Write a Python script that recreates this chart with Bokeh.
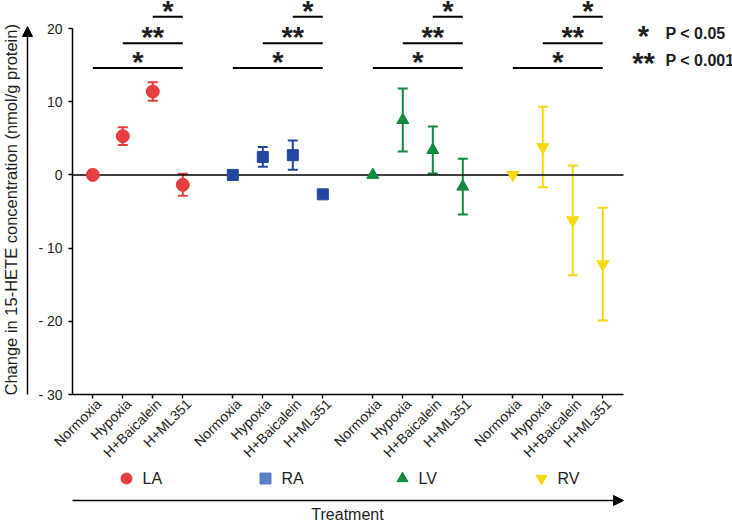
import math
from bokeh.plotting import figure
from bokeh.layouts import row, column
from bokeh.models import (ColumnDataSource, Whisker, TeeHead, Label, Arrow, NormalHead,
                          FixedTicker, Range1d, LinearAxis)
from bokeh.embed import file_html
from bokeh.resources import INLINE
from bokeh.core.properties import value

# ---------------- data ----------------
treatments = ["Normoxia", "Hypoxia", "H+Baicalein", "H+ML351"]
tissues = ["LA", "RA", "LV", "RV"]

la_mean = [0.0, 5.3, 11.4, -1.35]
la_err = [0.0, 1.2, 1.25, 1.5]
ra_mean = [0.0, 2.45, 2.7, -2.65]
ra_err = [0.0, 1.35, 2.0, 0.3]
lv_mean = [0.0, 7.5, 3.4, -1.6]
lv_err = [0.0, 4.3, 3.2, 3.8]
rv_mean = [0.0, 3.8, -6.2, -12.2]
rv_err = [0.0, 5.5, 7.5, 7.7]

y_ticks = [-30, -20, -10, 0, 10, 20]
y_tick_labels = ["- 30", "- 20", "- 10", "0", "10", "20"]

sig_from = [0, 1, 2]          # treatment index compared with H+ML351
sig_marks = ["*", "**", "*"]
sig_levels = [14.6, 18.0, 21.6]

p_legend_marks = ["*", "**"]
p_legend_texts = ["P < 0.05", "P < 0.001"]

y_title = "Change in 15-HETE concentration (nmol/g protein)"
x_title = "Treatment"

# ---------------- style ----------------
FONT = "Liberation Sans"
TXT = "#1e1e1e"
colors = ["#e63e3e", "#2346a0", "#108a3e", "#f7d80c"]
legend_colors = ["#e63e3e", "#5b7fc4", "#108a3e", "#f7d80c"]
markers = ["circle", "square", "triangle", "inverted_triangle"]
sizes = [13, 11, 12, 12]
legend_sizes = [11, 11, 11, 11]

W, H = 732, 522
LEFT_W = 34          # strip holding the y title + arrow
MAIN_H = 470         # main plot height; strip below holds legend + x title
FL, FB = 72, 394     # frame left / bottom in page pixels

GROUP_STEP = 14
TICK_STEP = 3
X_LEFT, X_RIGHT, X_AXIS_END = -2.03, 63.97, 53.07
LABEL_SHIFT = 0.6    # rotated tick labels sit slightly right of their ticks
Y_BOTTOM, Y_TOP = -30, 23.83

means = [la_mean, ra_mean, lv_mean, rv_mean]
errs = [la_err, ra_err, lv_err, rv_err]
xpos = [[g * GROUP_STEP + i * TICK_STEP for i in range(len(treatments))] for g in range(len(tissues))]

# ---------------- main plot ----------------
p = figure(width=W - LEFT_W, height=MAIN_H, x_range=Range1d(X_LEFT, X_RIGHT),
           y_range=Range1d(Y_BOTTOM, Y_TOP), output_backend="svg", toolbar_location=None,
           min_border_left=FL - LEFT_W, min_border_right=0, min_border_top=0,
           min_border_bottom=MAIN_H - FB)
p.outline_line_color = None
p.grid.visible = False
p.background_fill_color = "white"
p.extra_x_ranges = {"labels": Range1d(X_LEFT - LABEL_SHIFT, X_RIGHT - LABEL_SHIFT)}

all_x = [x for r in xpos for x in r]

# axis line + ticks (its own labels are not drawn)
ax = p.xaxis[0]
ax.ticker = FixedTicker(ticks=all_x)
ax.major_label_text_color = None
ax.major_label_text_font_size = "1px"
ax.major_label_standoff = 0
ax.major_tick_out = 4
ax.major_tick_in = 0
ax.minor_tick_line_color = None
ax.axis_line_width = 1.5
ax.major_tick_line_width = 1.5
ax.bounds = (X_LEFT, X_AXIS_END)

# tick labels (rotated)
lx = LinearAxis(x_range_name="labels", ticker=FixedTicker(ticks=all_x),
                major_label_overrides={x: treatments[i % 4] for i, x in enumerate(all_x)})
lx.major_label_orientation = math.pi / 4
lx.major_label_text_font = FONT
lx.major_label_text_font_size = "14px"
lx.major_label_text_color = TXT
lx.major_label_standoff = 3
lx.major_tick_out = 0
lx.major_tick_in = 0
lx.major_tick_line_color = None
lx.minor_tick_line_color = None
lx.axis_line_color = None
p.add_layout(lx, "below")

ay = p.yaxis[0]
ay.ticker = FixedTicker(ticks=y_ticks)
ay.major_label_overrides = {t: l for t, l in zip(y_ticks, y_tick_labels)}
ay.major_label_text_font = FONT
ay.major_label_text_font_size = "14px"
ay.major_label_text_color = TXT
ay.major_label_standoff = 6
ay.major_tick_out = 4
ay.major_tick_in = 0
ay.minor_tick_line_color = None
ay.axis_line_width = 1.5
ay.major_tick_line_width = 1.5
ay.bounds = (-30, 20)

# zero line
p.line(x=[X_LEFT, X_AXIS_END], y=[0, 0], line_color="black", line_width=1.5)

# error bars and points
for g in range(4):
    c = colors[g]
    xs = [x for x, e in zip(xpos[g], errs[g]) if e > 0]
    up = [m + e for m, e in zip(means[g], errs[g]) if e > 0]
    lo = [m - e for m, e in zip(means[g], errs[g]) if e > 0]
    src = ColumnDataSource(dict(x=xs, upper=up, lower=lo))
    w = Whisker(source=src, base="x", upper="upper", lower="lower", dimension="height",
                line_color=c, line_width=2,
                upper_head=TeeHead(size=10, line_color=c, line_width=2),
                lower_head=TeeHead(size=10, line_color=c, line_width=2))
    p.add_layout(w)
    p.scatter(x=xpos[g], y=means[g], marker=markers[g], size=sizes[g],
              fill_color=c, line_color=c)

# significance bars
STAR_SIZE = "29px"
for g in range(4):
    x0 = [xpos[g][i] for i in sig_from]
    x1 = [xpos[g][3]] * len(sig_from)
    p.segment(x0=x0, x1=x1, y0=sig_levels, y1=sig_levels, line_color="black", line_width=2)
    mids = [(a + b) / 2 for a, b in zip(x0, x1)]
    p.text(x=mids, y=sig_levels, text=sig_marks, text_font=value(FONT), text_font_size=STAR_SIZE,
           text_font_style="bold", text_align="center", text_baseline="alphabetic",
           y_offset=-6, text_color=TXT)

# P-value key
for mark, txt, cy in zip(p_legend_marks, p_legend_texts, [33, 60]):
    p.add_layout(Label(x=643 - FL, y=FB - (cy + 2.5), x_units="screen", y_units="screen", text=mark,
                       text_font=FONT, text_font_size=STAR_SIZE, text_font_style="bold",
                       text_align="center", text_baseline="alphabetic", text_color=TXT))
    p.add_layout(Label(x=665 - FL, y=FB - cy, x_units="screen", y_units="screen", text=txt,
                       text_font=FONT, text_font_size="16px", text_font_style="bold",
                       text_align="left", text_baseline="middle", text_color=TXT))

# ---------------- left strip: y title + arrow ----------------
# its frame is aligned with the main frame (page y 0..FB); y counted up from the x axis
left = figure(width=LEFT_W, height=MAIN_H, x_range=Range1d(0, LEFT_W), y_range=Range1d(0, FB),
              x_axis_type=None, y_axis_type=None, output_backend="svg", toolbar_location=None,
              min_border=0)
left.outline_line_color = None
left.text(x=[10], y=[FB - 395], text=[y_title], angle=math.pi / 2,
          text_font=value(FONT), text_font_size="16.5px", text_align="left",
          text_baseline="middle", text_color=TXT)
left.add_layout(Arrow(x_start=27, y_start=FB - 396, x_end=27, y_end=FB - 26, line_width=1.5,
                      line_color="black",
                      end=NormalHead(size=10, fill_color="black", line_color="black")))

# ---------------- bottom strip: legend + x title (page-pixel coords, y downward) ----------------
BH = H - MAIN_H
bottom = figure(width=W, height=BH, x_range=Range1d(0, W), y_range=Range1d(H, MAIN_H),
                x_axis_type=None, y_axis_type=None, output_backend="svg", toolbar_location=None,
                min_border=0)
bottom.outline_line_color = None
bottom.add_layout(Arrow(x_start=FL, y_start=500, x_end=623, y_end=500, line_width=1.5,
                        line_color="black",
                        end=NormalHead(size=10, fill_color="black", line_color="black")))
bottom.text(x=[347], y=[514], text=[x_title], text_font=value(FONT), text_font_size="16px",
            text_align="center", text_baseline="middle", text_color=TXT)

legend_cx = [126, 265, 402, 541]
LEG_CY = 478
bottom.scatter(x=legend_cx, y=[LEG_CY] * 4, marker=markers, size=legend_sizes,
               fill_color=legend_colors, line_color=legend_colors)
bottom.text(x=[c + 16 for c in legend_cx], y=[LEG_CY] * 4, text=tissues, text_font=value(FONT),
            text_font_size="16px", text_align="left", text_baseline="middle", text_color=TXT)

layout = column(row(left, p), bottom)
open("out.html", "w").write(file_html(layout, INLINE))
